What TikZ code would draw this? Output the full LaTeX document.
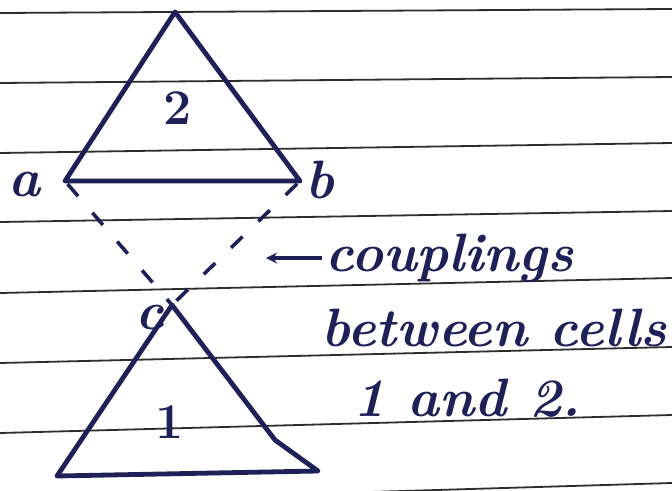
\documentclass[tikz,border=0pt]{standalone}
\usepackage{tikz}
\definecolor{ink}{RGB}{30,32,88}
\definecolor{rulegray}{RGB}{45,45,45}
\begin{document}
\begin{tikzpicture}[x=1pt,y=-1pt,>=stealth,font=\bfseries\itshape\fontsize{54}{58}\selectfont]
 \useasboundingbox (0,0) rectangle (672,490);
 \fill[white] (0,0) rectangle (672,490);
 \foreach \yl/\yr in {13/9,83/77,153/143,222/211,293/278,363/347,433/415,503/483}
   \draw[rulegray,line width=1.8pt] (0,\yl) -- (672,\yr);
 \coordinate (t2) at (175,12);
 \coordinate (a) at (65,181);
 \coordinate (b) at (300,181);
 \coordinate (c) at (172,305);
 \coordinate (p) at (57,476);
 \coordinate (q) at (318,471);
 \coordinate (k) at (275,440);
 \draw[ink,line width=4.8pt,line join=round] (a) -- (t2) -- (b) -- cycle;
 \draw[ink,line width=4.8pt,line join=round] (c) -- (k) -- (q) -- (p) -- cycle;
 \draw[ink,line width=3.6pt,dash pattern=on 16pt off 22pt,dash phase=-4pt] (a) -- (c);
 \draw[ink,line width=3.6pt,dash pattern=on 16pt off 22pt,dash phase=-4pt] (b) -- (c);
 \node[ink] (la) at (24,185) {a};
 \node[ink] (lb) at (320,180) {b};
 \node[ink] (lc) at (150,318) {c};
 \node[ink,font=\bfseries\fontsize{50}{54}\selectfont] (n2) at (178,108) {2};
 \node[ink,font=\bfseries\fontsize{50}{54}\selectfont] (n1) at (170,422) {1};
 \coordinate (ar) at (266,258);
 \node[ink,anchor=west] (l1) at (322,258) {couplings};
 \node[ink,anchor=west] (l2) at (318,328) {between cells};
 \node[ink,anchor=west] (l3) at (350,398) {1 and 2.};
 \draw[ink,line width=3.8pt,->] (l1.west) -- (ar);
\end{tikzpicture}
\end{document}
